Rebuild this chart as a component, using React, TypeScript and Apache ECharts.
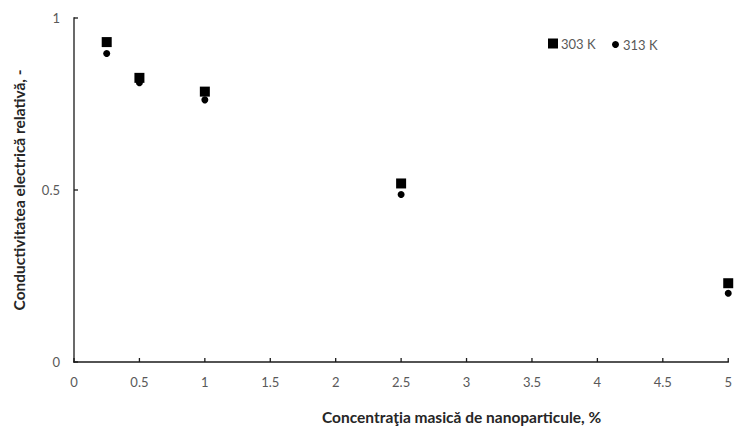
import React, { useEffect, useRef } from "react";
import * as echarts from "echarts";

// Mass concentration of nanoparticles (%)
const concentrations = [0.25, 0.5, 1, 2.5, 5];
// Relative electrical conductivity at each temperature
const values303K = [0.93, 0.826, 0.786, 0.519, 0.229];
const values313K = [0.897, 0.812, 0.762, 0.487, 0.2];
const seriesNames = ["303 K", "313 K"];

// Axis tick positions
const xTicks = [0, 0.5, 1, 1.5, 2, 2.5, 3, 3.5, 4, 4.5, 5];
const yTicks = [0, 0.5, 1];

const FONT = "Lato, 'Open Sans', sans-serif";
const TICK_COLOR = "#595959";
const AXIS_COLOR = "#1a1a1a";
const TITLE_COLOR = "#262626";

export default function App() {
  const ref = useRef<HTMLDivElement>(null);

  useEffect(() => {
    if (!ref.current) return;
    const chart = echarts.init(ref.current, undefined, { renderer: "svg" });
    const pairs = (ys: number[]) => concentrations.map((x, i) => [x, ys[i]]);

    const xMin = xTicks[0];
    const xMax = xTicks[xTicks.length - 1];
    const yMin = yTicks[0];
    const yMax = yTicks[yTicks.length - 1];

    // Axis frame with inward ticks, drawn as thin filled bars through the cartesian scales
    const renderAxes = (_params: any, api: any) => {
      const origin = api.coord([xMin, yMin]);
      const xEnd = api.coord([xMax, yMin]);
      const yEnd = api.coord([xMin, yMax]);
      const w = 1.3;
      const fill = { fill: AXIS_COLOR };
      const children: any[] = [
        { type: "rect", shape: { x: origin[0] - w / 2, y: origin[1] - w / 2, width: xEnd[0] - origin[0] + w, height: w }, style: fill },
        { type: "rect", shape: { x: origin[0] - w / 2, y: yEnd[1] - w / 2, width: w, height: origin[1] - yEnd[1] + w }, style: fill },
      ];
      xTicks.forEach((t) => {
        const p = api.coord([t, yMin]);
        children.push({ type: "rect", shape: { x: p[0] - w / 2, y: p[1] - 4, width: w, height: 4 }, style: fill });
      });
      yTicks.forEach((t) => {
        const p = api.coord([xMin, t]);
        children.push({ type: "rect", shape: { x: p[0], y: p[1] - w / 2, width: 4, height: w }, style: fill });
      });
      return { type: "group", children };
    };

    chart.setOption({
      animation: false,
      grid: { left: 74, right: 6, top: 18, bottom: 71 },
      xAxis: {
        type: "value",
        min: xMin,
        max: xMax,
        interval: 0.5,
        axisLine: { show: false },
        axisTick: { show: false },
        splitLine: { show: false },
        axisLabel: { color: TICK_COLOR, fontFamily: FONT, fontSize: 13, margin: 13 },
      },
      yAxis: {
        type: "value",
        min: yMin,
        max: yMax,
        interval: 0.5,
        name: "Conductivitatea electrică relativă, -",
        nameLocation: "middle",
        nameGap: 47,
        nameTextStyle: { color: TITLE_COLOR, fontFamily: FONT, fontSize: 15.5, fontWeight: "bold" },
        axisLine: { show: false },
        axisTick: { show: false },
        splitLine: { show: false },
        axisLabel: { color: TICK_COLOR, fontFamily: FONT, fontSize: 13, margin: 14 },
      },
      graphic: [
        {
          type: "text",
          left: 322,
          top: 409,
          style: {
            text: "Concentraţia masică de nanoparticule, %",
            fill: TITLE_COLOR,
            font: `bold 15.5px ${FONT}`,
          },
        },
      ],
      legend: [
        {
          data: [{ name: seriesNames[0], icon: "rect" }],
          left: 548,
          top: 37,
          itemWidth: 10,
          itemHeight: 10,
          itemGap: 4,
          padding: 0,
          textStyle: { color: TICK_COLOR, fontFamily: FONT, fontSize: 13, padding: [0, 0, 0, -2] },
          selectedMode: false,
        },
        {
          data: [{ name: seriesNames[1], icon: "circle" }],
          left: 612,
          top: 38,
          itemWidth: 7,
          itemHeight: 7,
          padding: 0,
          textStyle: { color: TICK_COLOR, fontFamily: FONT, fontSize: 13, padding: [0, 0, 0, -1] },
          selectedMode: false,
        },
      ],
      series: [
        {
          type: "custom",
          renderItem: renderAxes,
          data: [[xMin, yMin]],
          clip: false,
          silent: true,
          z: 1,
        },
        {
          name: seriesNames[0],
          type: "scatter",
          symbol: "rect",
          symbolSize: 10,
          clip: false,
          itemStyle: { color: "#000000", opacity: 1 },
          data: pairs(values303K),
          z: 2,
        },
        {
          name: seriesNames[1],
          type: "scatter",
          symbol: "circle",
          symbolSize: 7,
          clip: false,
          itemStyle: { color: "#000000", opacity: 1 },
          data: pairs(values313K),
          z: 3,
        },
      ],
    });

    return () => chart.dispose();
  }, []);

  return <div ref={ref} style={{ width: 735, height: 433, position: "absolute", left: 0, top: 0 }} />;
}
